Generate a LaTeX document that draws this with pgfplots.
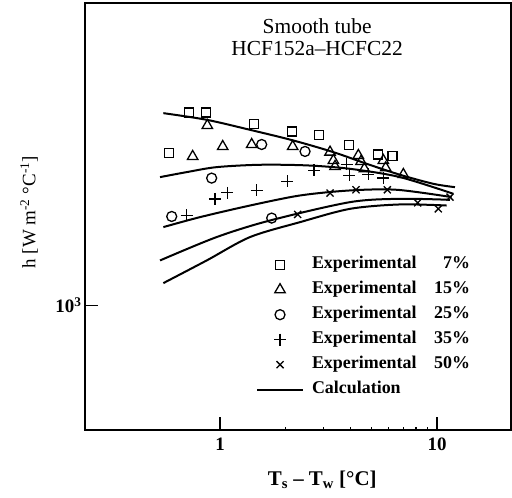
\documentclass[border=0pt]{standalone}
\usepackage{pgfplots}
\pgfplotsset{compat=1.18}
\usepackage{fontspec}
\setmainfont{Liberation Serif}

\newcommand{\legrow}[1]{\hspace*{3bp}\makebox[158bp][l]{Experimental\hfill #1}}

\begin{document}
\begin{tikzpicture}
\begin{axis}[
  scale only axis,
  width=426bp, height=427bp,
  xmode=log, ymode=log,
  xmin=0.2386, xmax=21.93,
  ymin=430, ymax=7760,
  axis line style={line width=1.4bp},
  xtick={1,10}, xticklabels={1,10},
  ytick={1000}, yticklabels={10\textsuperscript{3}},
  minor xtick={}, minor ytick={},
  tick pos=left, tick align=inside,
  major tick length=13bp,
  tick style={line width=1.1bp, black},
  /pgf/number format/assume math mode=true,
  ticklabel style={font=\bfseries\fontsize{19}{22}\selectfont},
  xticklabel style={yshift=-4bp},
  xlabel={T\textsubscript{s} -- T\textsubscript{w} [°C]},
  xlabel style={font=\bfseries\fontsize{21}{24}\selectfont,
    at={(axis description cs:0.557,-0.117)}, anchor=center},
  ylabel={h [W m\textsuperscript{-2} °C\textsuperscript{-1}]},
  ylabel style={font=\fontsize{19}{22}\selectfont,
    at={(axis description cs:-0.131,0.51)}, anchor=center},
  legend cell align=left,
  legend style={
    draw=none, fill=none,
    at={(0.401,0.411)}, anchor=north west,
    font=\bfseries\fontsize{18}{21}\selectfont,
    row sep=5bp, inner sep=0pt,
    nodes={inner xsep=5bp, inner ysep=2bp, text height=12bp, text depth=4bp},
  },
  legend image code/.code={%
    \draw[mark repeat=2,mark phase=2,#1] plot coordinates {(0bp,0bp) (23bp,0bp) (46bp,0bp)};},
  every axis plot/.append style={black},
]

% Experimental data, 7 % to 50 %
\addplot[only marks, mark=square, mark size=4.5bp, mark options={line width=1.3bp}] coordinates {
  (0.584,2811) (0.720,3695) (0.859,3695) (1.439,3423) (2.140,3249)
  (2.859,3170) (3.945,2969) (5.329,2781) (6.226,2756)};
\addlegendentry{\legrow{7\%}}

\addplot[only marks, mark=triangle, mark size=6bp, mark options={line width=1.3bp}] coordinates {
  (0.874,3384) (0.748,2744) (1.029,2935) (1.399,2975) (2.162,2935)
  (3.214,2825) (3.330,2670) (3.388,2563) (4.340,2762) (4.465,2652)
  (4.626,2523) (5.658,2670) (5.800,2540) (6.997,2428)};
\addlegendentry{\legrow{15\%}}

\addplot[only marks, mark=o, mark size=5bp, mark options={line width=1.3bp}] coordinates {
  (1.556,2975) (2.465,2838) (0.915,2369) (0.599,1827) (1.730,1807)};
\addlegendentry{\legrow{25\%}}

\addplot[only marks, mark=+, mark size=6bp, mark options={line width=1.4bp}] coordinates {
  (0.702,1840) (0.948,2059) (1.081,2145) (1.476,2179) (2.043,2316)
  (2.712,2495) (3.835,2598) (3.945,2412) (4.827,2428) (5.658,2369)};
\addlegendentry{\legrow{35\%}}

\addplot[only marks, mark=x, mark size=5bp, mark options={line width=1.3bp}] coordinates {
  (2.280,1852) (3.214,2140) (4.234,2189) (5.904,2189) (8.146,2004)
  (10.14,1924) (11.48,2083)};
\addlegendentry{\legrow{50\%}}

% Calculated curves
\addplot[line width=2bp, smooth, no marks] coordinates {
  (0.548,3679) (0.868,3517) (1.375,3286) (2.177,3057) (3.330,2825)
  (4.743,2610) (6.754,2423) (9.618,2279) (12.10,2228)};
\addlegendentry{\hspace*{3bp}Calculation}

\addplot[line width=2bp, smooth, no marks, forget plot] coordinates {
  (0.529,2385) (0.702,2467) (0.965,2552) (1.529,2593) (2.508,2582)
  (3.972,2523) (6.754,2385) (11.89,2130)};

\addplot[line width=2bp, smooth, no marks, forget plot] coordinates {
  (0.548,1700) (0.809,1819) (1.375,1968) (2.337,2106) (3.972,2179)
  (6.519,2189) (11.68,2083)};

\addplot[line width=2bp, smooth, no marks, forget plot] coordinates {
  (0.529,1356) (0.965,1589) (1.700,1778) (3.972,2013) (6.754,2059)
  (11.48,2045)};

\addplot[line width=2bp, smooth, no marks, forget plot] coordinates {
  (0.548,1163) (0.868,1356) (1.375,1589) (2.337,1758) (3.972,1924)
  (6.754,1982) (11.08,1968)};

\node[font=\fontsize{21.5}{22}\selectfont, align=center] at (rel axis cs:0.545,0.92)
  {Smooth tube\\HCF152a--HCFC22};
\end{axis}
\pgfresetboundingbox
\path[use as bounding box] (-85bp,-68bp) rectangle (427bp,430bp);
\end{tikzpicture}
\end{document}
